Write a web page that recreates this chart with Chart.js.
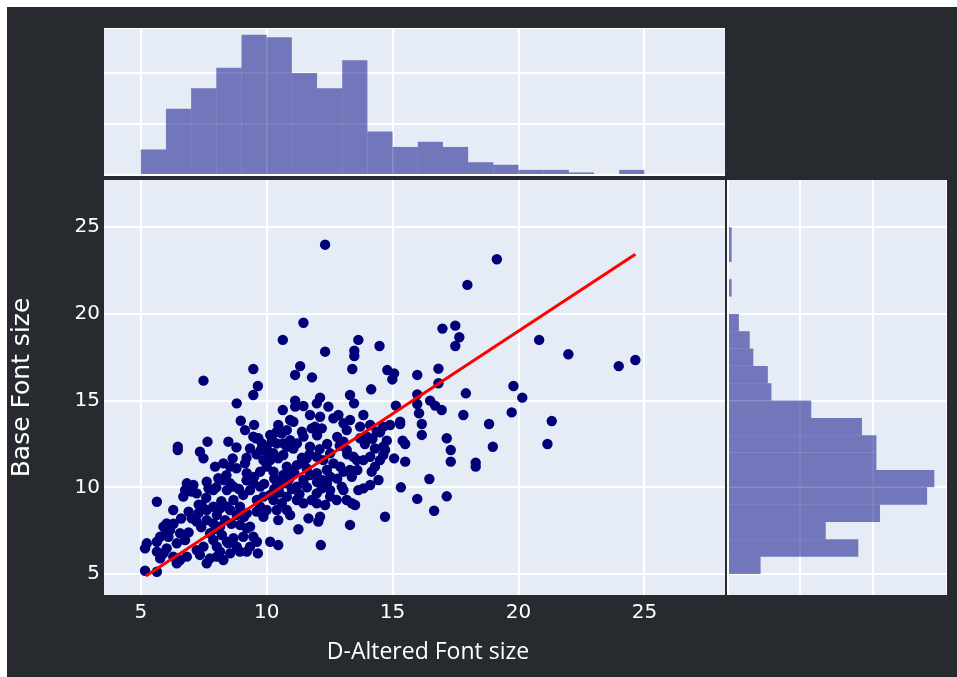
<!DOCTYPE html>
<html>
<head>
<meta charset="utf-8">
<script src="https://cdn.jsdelivr.net/npm/chart.js@4.4.1/dist/chart.umd.min.js"></script>
<style>
  html, body { margin: 0; padding: 0; background: #ffffff; }
  #wrap { position: relative; width: 957px; height: 677px; overflow: hidden; background: #ffffff; }
  #dark { position: absolute; left: 7px; top: 7px; width: 950px; height: 670px; background: #272a2f; }
  canvas { position: absolute; }
  #cMain { left: 0; top: 160px; }
  #cTop { left: 104px; top: 28px; }
  #cRight { left: 727px; top: 180px; }
</style>
</head>
<body>
<div id="wrap">
  <div id="dark"></div>
  <canvas id="cMain" width="957" height="517"></canvas>
  <canvas id="cTop" width="621" height="148"></canvas>
  <canvas id="cRight" width="220" height="415"></canvas>
</div>
<script>
// ---------------- data ----------------
const xAxisTitle = 'D-Altered Font size';
const yAxisTitle = 'Base Font size';

// histogram bins (1 unit wide, centres)
const binCenters = [5.5, 6.5, 7.5, 8.5, 9.5, 10.5, 11.5, 12.5, 13.5, 14.5,
                    15.5, 16.5, 17.5, 18.5, 19.5, 20.5, 21.5, 22.5, 23.5, 24.5];
// counts of D-Altered Font size (top marginal)
const topHistCounts = [10, 26, 34, 42, 55, 54, 40, 34, 45, 17,
                       11, 13, 11, 5, 4, 2, 2, 1, 0, 2];
// counts of Base Font size (right marginal)
const rightHistCounts = [9, 36, 27, 42, 55, 57, 41, 41, 37, 23,
                         12, 11, 7, 6, 3, 0, 1, 0, 1, 1];

// scatter points
const scatterX = [
  12.32,11.46,10.64,13.64,14.48,12.32,13.48,13.48,9.47,7.49,11.33,11.13,11.80,13.40,14.79,9.65,9.47,8.81,14.15,13.31,13.47,12.12,11.99,12.45,11.13,11.13,11.46,10.64,
  19.14,17.97,16.98,17.49,17.65,17.49,20.82,21.98,23.98,24.64,15.06,14.99,15.98,16.82,16.82,15.98,15.98,16.49,16.69,16.95,17.91,19.80,20.15,15.13,
  17.81,18.83,19.73,21.32,21.15,18.98,16.05,16.16,16.16,17.15,17.31,17.31,18.30,18.30,16.46,15.33,15.98,17.15,16.65,14.70,15.30,15.30,14.90,15.40,15.50,14.77,14.63,14.63,15.06,15.50,14.50,
  8.97,9.14,9.57,9.34,9.77,7.65,8.48,6.47,6.47,
  7.35,7.49,8.65,9.14,9.21,10.46,10.60,10.66,10.40,11.06,
  10.93,11.46,11.20,11.72,11.59,11.92,12.19,12.12,11.72,11.79,
  12.65,12.85,13.05,13.18,13.31,13.84,13.71,14.11,14.37,14.63,
  14.30,14.70,14.50,13.98,13.71,13.05,13.18,13.44,13.58,12.92,
  13.05,13.31,13.38,14.30,14.17,14.44,14.11,13.84,13.64,12.98,
  13.05,12.39,12.52,12.19,11.99,13.18,13.38,13.51,12.32,12.12,
  12.05,11.66,13.31,12.15,11.26,10.46,10.14,10.46,9.65,11.46,
  11.72,10.80,10.93,11.20,10.66,10.27,10.40,10.80,11.20,9.87,
  10.00,9.74,10.14,9.47,9.34,9.74,9.87,9.61,10.14,10.27,
  10.60,10.80,10.40,10.80,11.20,11.46,10.93,8.68,8.94,9.07,
  8.55,8.81,9.21,8.94,9.21,9.47,9.07,9.34,9.87,10.00,
  9.74,8.28,8.08,8.55,8.42,8.68,7.62,7.88,7.69,6.76,
  7.02,6.69,7.22,5.64,6.29,7.42,7.62,7.88,7.29,8.15,
  8.02,7.02,7.22,7.62,7.88,8.15,8.35,6.16,6.10,6.56,
  6.76,6.43,5.24,5.17,5.64,5.90,6.03,5.77,6.29,6.56,
  6.83,6.43,7.22,7.35,7.49,7.75,7.62,8.02,8.15,8.48,
  8.55,8.81,8.94,8.02,8.28,9.34,9.21,9.61,5.17,5.64,
  6.83,7.09,8.28,8.55,7.95,9.87,10.07,9.81,9.47,9.67,
  10.27,10.46,10.66,11.99,12.25,12.52,12.65,11.99,12.19,12.39,
  12.52,11.46,11.59,10.80,11.06,10.93,10.40,10.14,10.00,10.20,
  14.11,13.84,12.52,12.78,11.99,11.79,7.75,7.88,8.22,8.42,
  8.68,5.77,5.64,5.90,6.03,
  8.20,8.40,8.90,9.20,9.50,9.90,10.30,10.60,10.90,11.10,
  11.40,11.70,12.10,12.40,12.80,12.00,11.40,10.80,10.20,9.60,
  9.20,8.80,8.40,8.00,7.60,7.30,6.90,6.60,6.30,6.00,
  6.90,7.40,8.00,8.60,9.10,9.60,10.30,11.00,11.60,12.00,
  12.80,13.60,13.20,12.90,13.90,14.20,9.50,8.80,10.50,11.30
];
const scatterY = [
  23.99,19.49,18.50,18.50,18.15,17.82,17.88,17.57,16.82,16.15,16.99,16.48,16.34,16.82,16.76,15.84,15.32,14.84,15.65,15.32,14.84,15.17,14.84,14.65,15.00,14.65,14.69,14.46,
  23.15,21.67,19.15,19.32,18.65,18.15,18.50,17.67,16.99,17.34,16.57,16.22,16.48,16.84,16.00,15.36,14.80,15.00,14.71,14.46,15.42,15.84,15.17,14.71,
  14.17,13.65,14.32,13.82,12.50,12.34,14.27,13.65,13.02,12.83,12.15,11.48,11.42,11.19,10.48,10.00,9.33,9.48,8.65,8.30,13.78,13.65,13.59,12.69,12.50,12.69,12.34,11.86,11.67,11.48,13.17,
  13.84,13.30,12.82,12.24,12.15,12.63,12.63,12.34,12.15,
  12.05,11.67,11.67,11.38,10.81,13.59,13.11,12.53,12.53,13.78,
  13.88,12.92,12.53,12.34,11.67,13.50,13.40,14.07,14.17,13.40,
  13.98,14.17,13.69,13.30,13.88,14.17,13.50,13.59,13.20,13.50,
  12.24,12.15,11.57,12.92,12.83,12.63,12.15,11.76,11.57,11.19,
  10.90,11.00,10.61,11.19,10.90,10.42,10.13,9.94,9.84,10.04,
  9.84,10.23,9.84,9.94,9.65,9.27,9.08,8.98,8.98,8.30,
  8.02,8.21,7.83,6.67,7.58,8.11,6.86,6.67,6.19,10.42,
  10.71,11.19,10.90,11.28,10.71,10.90,10.32,10.23,10.04,11.57,
  11.19,10.90,11.57,10.23,9.84,10.04,9.46,9.27,9.56,9.27,
  9.08,9.46,8.69,8.69,9.27,9.08,8.40,9.27,8.88,9.56,
  8.69,8.40,8.50,7.83,7.64,7.15,7.15,7.73,8.30,8.69,
  8.88,10.42,10.52,10.23,9.84,10.04,10.32,9.84,9.94,9.84,
  9.75,9.46,9.65,9.17,8.69,8.98,8.69,8.88,8.50,8.79,
  8.40,8.21,8.02,8.11,7.92,7.73,8.11,7.54,7.15,7.35,
  6.96,6.77,6.77,6.48,6.29,6.19,6.48,5.90,6.00,5.81,
  6.00,5.62,6.38,6.10,6.58,5.90,5.62,6.58,6.29,6.77,
  6.19,6.58,6.29,6.00,5.81,6.58,6.29,6.86,5.19,5.13,
  10.23,10.13,11.38,11.19,11.19,12.15,11.86,12.53,12.92,12.83,
  11.96,11.67,11.86,11.76,11.57,11.96,11.38,10.81,10.42,11.00,
  10.61,11.38,11.09,12.34,12.24,12.72,13.20,13.02,12.24,12.63,
  11.76,11.57,9.46,9.27,9.08,9.27,7.35,6.96,7.25,6.86,
  7.06,7.15,6.86,7.73,7.92,
  9.20,8.90,9.90,10.40,10.60,10.20,10.50,10.20,10.50,10.80,
  11.70,11.90,12.20,12.50,12.90,13.00,13.20,13.30,12.90,11.90,
  11.70,11.10,10.70,10.00,9.40,9.00,8.60,8.20,7.90,7.40,
  7.40,7.70,7.60,7.90,8.30,8.60,9.90,9.90,10.00,10.30,
  10.50,11.00,11.90,12.40,12.50,12.80,13.60,12.30,9.70,9.60
];

// fitted trend line end points
const fitX = [5.2, 24.64];
const fitY = [4.88, 23.44];

// axis ranges and tick steps
const xRange = [3.54, 28.2];
const yRange = [3.79, 27.72];
const mainTickStep = 5;
const countTickStep = 20;
const topCountMax = 57.6;
const rightCountMax = 60.5;

// ---------------- styling ----------------
const PLOT_BG = '#E5ECF6';
const GRID = '#ffffff';
const BAR = 'rgba(0,0,128,0.5)';
const POINT = '#000078';
const TICK_FONT = { family: "'DejaVu Sans', Verdana, sans-serif", size: 20 };

const plotBg = {
  id: 'plotBg',
  beforeDraw(chart, args, opts) {
    const { ctx, chartArea: a } = chart;
    ctx.save();
    ctx.fillStyle = PLOT_BG;
    if (opts && opts.full) ctx.fillRect(0, 0, chart.width, chart.height);
    else ctx.fillRect(a.left, a.top, a.right - a.left, a.bottom - a.top);
    ctx.restore();
  }
};
Chart.register(plotBg);

const n = Math.min(scatterX.length, scatterY.length);
const points = [];
for (let i = 0; i < n; i++) points.push({ x: scatterX[i], y: scatterY[i] });
const fitPoints = fitX.map((x, i) => ({ x: x, y: fitY[i] }));

// ---------------- main scatter ----------------
new Chart(document.getElementById('cMain'), {
  type: 'scatter',
  data: {
    datasets: [
      { type: 'line', data: fitPoints, borderColor: '#ff0000', borderWidth: 3,
        pointRadius: 0, fill: false, tension: 0, order: 0 },
      { type: 'scatter', data: points, backgroundColor: POINT, borderColor: POINT,
        borderWidth: 0, pointRadius: 5.2, order: 1 }
    ]
  },
  options: {
    responsive: false,
    animation: false,
    layout: { padding: { top: 20, left: 0, right: 101, bottom: 0 } },
    plugins: {
      legend: { display: false },
      tooltip: { enabled: false },
      plotBg: { full: false },
      title: {
        display: true, position: 'bottom', text: xAxisTitle, color: '#ffffff',
        font: { family: "'Open Sans', sans-serif", size: 23, weight: 'normal' },
        padding: { top: 0, bottom: 11 }
      }
    },
    scales: {
      x: {
        type: 'linear', min: xRange[0], max: xRange[1],
        ticks: { stepSize: mainTickStep, includeBounds: false, color: '#ffffff', font: TICK_FONT, padding: 6 },
        grid: { color: GRID, lineWidth: 2, drawTicks: false },
        border: { display: false },
        afterFit(s) { s.height = 43.4; }
      },
      y: {
        type: 'linear', min: yRange[0], max: yRange[1],
        ticks: { stepSize: mainTickStep, includeBounds: false, color: '#ffffff', font: TICK_FONT, padding: 4 },
        grid: { color: GRID, lineWidth: 2, drawTicks: false },
        border: { display: false },
        title: { display: true, text: yAxisTitle, color: '#ffffff',
          font: { family: "'DejaVu Sans', Verdana, sans-serif", size: 25 }, padding: { top: 7, bottom: 0 } },
        afterFit(s) { s.width = 104; }
      },
      pad: {
        type: 'linear', position: 'right', display: true,
        grid: { display: false, drawTicks: false },
        ticks: { display: false },
        border: { display: false },
        afterFit(s) { s.width = 131; }
      }
    }
  }
});

// ---------------- top marginal histogram ----------------
new Chart(document.getElementById('cTop'), {
  type: 'bar',
  data: {
    datasets: [{
      data: binCenters.map((c, i) => ({ x: c, y: topHistCounts[i] })),
      backgroundColor: BAR, borderWidth: 0, barPercentage: 1, categoryPercentage: 1, inflateAmount: 0
    }]
  },
  options: {
    responsive: false,
    animation: false,
    layout: { padding: 0 },
    plugins: { legend: { display: false }, tooltip: { enabled: false }, plotBg: { full: true } },
    scales: {
      x: {
        type: 'linear', min: xRange[0], max: xRange[1], offset: false,
        ticks: { display: false, stepSize: mainTickStep, includeBounds: false },
        grid: { color: GRID, lineWidth: 2, drawTicks: false, offset: false },
        border: { display: false },
        afterFit(s) { s.height = 1; }
      },
      y: {
        type: 'linear', min: 0, max: topCountMax,
        ticks: { display: false, stepSize: countTickStep },
        grid: { color: GRID, lineWidth: 2, drawTicks: false },
        border: { display: false },
        afterFit(s) { s.width = 0; }
      }
    }
  }
});

// ---------------- right marginal histogram ----------------
new Chart(document.getElementById('cRight'), {
  type: 'bar',
  data: {
    datasets: [{
      data: binCenters.map((c, i) => ({ x: rightHistCounts[i], y: c })),
      backgroundColor: BAR, borderWidth: 0, barPercentage: 1, categoryPercentage: 1, inflateAmount: 0
    }]
  },
  options: {
    indexAxis: 'y',
    responsive: false,
    animation: false,
    layout: { padding: 0 },
    plugins: { legend: { display: false }, tooltip: { enabled: false }, plotBg: { full: true } },
    scales: {
      y: {
        type: 'linear', min: yRange[0], max: yRange[1], offset: false,
        ticks: { display: false, stepSize: mainTickStep, includeBounds: false },
        grid: { color: GRID, lineWidth: 2, drawTicks: false, offset: false },
        border: { display: false },
        afterFit(s) { s.width = 1; }
      },
      x: {
        type: 'linear', min: 0, max: rightCountMax,
        ticks: { display: false, stepSize: countTickStep },
        grid: { color: GRID, lineWidth: 2, drawTicks: false },
        border: { display: false },
        afterFit(s) { s.height = 0; }
      }
    }
  }
});
</script>
</body>
</html>
